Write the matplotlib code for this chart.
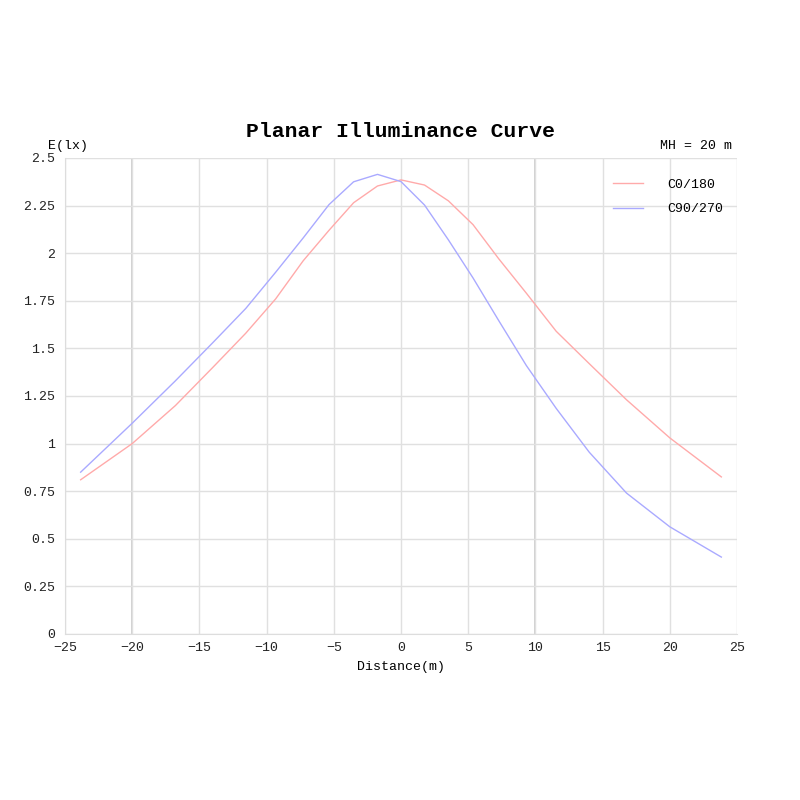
import numpy as np
import matplotlib
matplotlib.use('Agg')
import matplotlib.pyplot as plt

plt.rcParams['font.family'] = ['Liberation Mono', 'DejaVu Sans Mono']

# distances on the floor for angles -50..50 deg in 5 deg steps, MH = 20 m
angles = np.arange(-50, 51, 5)
distance = 20 * np.tan(np.radians(angles))

c0_180 = [0.81, 1.00, 1.20, 1.40, 1.58, 1.76, 1.96, 2.12, 2.265, 2.353, 2.385,
          2.358, 2.275, 2.15, 1.97, 1.79, 1.59, 1.42, 1.23, 1.03, 0.825]
c90_270 = [0.85, 1.107, 1.33, 1.53, 1.71, 1.90, 2.08, 2.255, 2.375, 2.414, 2.376,
           2.253, 2.07, 1.87, 1.645, 1.41, 1.185, 0.955, 0.74, 0.563, 0.404]

xticks = [-25, -20, -15, -10, -5, 0, 5, 10, 15, 20, 25]
yticks = [0, 0.25, 0.5, 0.75, 1, 1.25, 1.5, 1.75, 2, 2.25, 2.5]
ylabels = ['0', '0.25', '0.5', '0.75', '1', '1.25', '1.5', '1.75', '2', '2.25', '2.5']

fig = plt.figure(figsize=(8, 8), dpi=100)
ax = fig.add_axes([0.08125, 0.2075, 0.84, 0.595])

ax.plot(distance, c0_180, color='#ffaaaa', lw=1, label='C0/180')
ax.plot(distance, c90_270, color='#aaaaff', lw=1, label='C90/270')

ax.set_xlim(-25, 25)
ax.set_ylim(0, 2.5)
ax.set_xticks(xticks)
ax.set_yticks(yticks)
ax.set_yticklabels(ylabels)
ax.tick_params(length=0, labelsize=9.5, pad=6, colors='#222222')
ax.tick_params(axis='y', pad=7)
ax.grid(True, color='#e0e0e0', lw=1)
ax.set_axisbelow(True)
for x in (-20, 10):
    ax.axvline(x, color='#c8c8c8', lw=1.2, zorder=0.5)
for s in ('top', 'right'):
    ax.spines[s].set_visible(False)
for s in ('left', 'bottom'):
    ax.spines[s].set_color('#dddddd')

ax.set_xlabel('Distance(m)', fontsize=9.5, labelpad=5)
fig.text(0.5, 0.836, 'Planar Illuminance Curve', ha='center', va='center',
         fontsize=15.4, fontweight='bold')
fig.text(0.085, 0.8175, 'E(lx)', ha='center', va='center', fontsize=9.5)
fig.text(0.915, 0.8175, 'MH = 20 m', ha='right', va='center', fontsize=9.5)

ax.legend(loc='upper left', bbox_to_anchor=(0.798, 0.982), frameon=False,
          fontsize=9.5, handlelength=2.3, handletextpad=1.8, labelspacing=0.95)

fig.savefig('out.png', dpi=100)
